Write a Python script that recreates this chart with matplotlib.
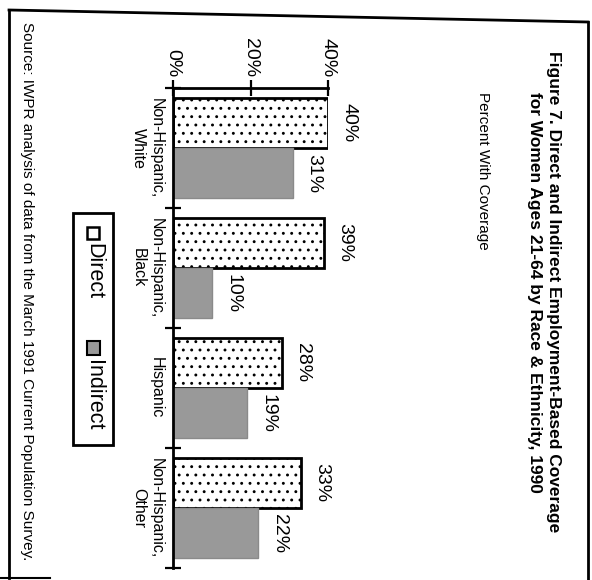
import matplotlib.pyplot as plt
from matplotlib.patches import Rectangle
from matplotlib.lines import Line2D

plt.rcParams["font.family"] = ["Liberation Sans", "DejaVu Sans"]
plt.rcParams["hatch.linewidth"] = 0.9

# data
categories = ["Non-Hispanic,\nWhite", "Non-Hispanic,\nBlack", "Hispanic", "Non-Hispanic,\nOther"]
direct = [40, 39, 28, 33]
indirect = [31, 10, 19, 22]
value_ticks = [0, 20, 40]
value_tick_labels = ["0%", "20%", "40%"]

W, H = 592, 580


def fx(x):
    return x / W


def fy(y):
    return 1 - y / H


fig = plt.figure(figsize=(W / 100, H / 100), dpi=100)

# page frame (scan border)
fig.add_artist(Line2D([fx(9), fx(588)], [fy(10), fy(22)], color="black", lw=2))
fig.add_artist(Line2D([fx(9), fx(9)], [fy(10), fy(578)], color="black", lw=2))
fig.add_artist(Line2D([fx(588), fx(588)], [fy(22), fy(580)], color="black", lw=2))
fig.add_artist(Line2D([fx(0), fx(50)], [fy(578), fy(578)], color="black", lw=1.5))

# chart drawn as horizontal bars, whole page rotated 90 degrees clockwise
ax = fig.add_axes([fx(173), fy(568), (328 - 173) / W, (568 - 88) / H])
pos = list(range(len(categories)))
bh = 0.42
ax.barh([p - bh / 2 for p in pos], direct, height=bh, color="white",
        edgecolor="black", linewidth=2, hatch="..", zorder=2)
ax.barh([p + bh / 2 for p in pos], indirect, height=bh, color="#999999",
        edgecolor="#8a8a8a", linewidth=1, zorder=2)

for p, v in zip(pos, direct):
    ax.annotate(f"{v}%", (v, p - bh / 2), xytext=(9, 0), textcoords="offset points",
                rotation=-90, ha="left", va="center", fontsize=14)
for p, v in zip(pos, indirect):
    ax.annotate(f"{v}%", (v, p + bh / 2), xytext=(9, 0), textcoords="offset points",
                rotation=-90, ha="left", va="center", fontsize=14)

ax.set_xlim(0, 40)
ax.set_ylim(len(categories) - 0.5, -0.5)
ax.spines["right"].set_visible(False)
ax.spines["bottom"].set_visible(False)
ax.spines["top"].set_linewidth(2)
ax.spines["left"].set_linewidth(2)
ax.set_facecolor("none")

ax.xaxis.tick_top()
ax.set_xticks(value_ticks)
ax.set_xticklabels(value_tick_labels, rotation=-90, fontsize=14)
ax.tick_params(axis="x", direction="inout", length=12, width=1.6, pad=2)

ax.set_yticks(pos)
ax.set_yticklabels(categories, rotation=-90, fontsize=11.5, ha="right", va="center",
                   multialignment="center")
ax.set_yticks([p - 0.5 for p in pos] + [len(pos) - 0.5], minor=True)
ax.tick_params(axis="y", which="major", length=0, pad=7)
ax.tick_params(axis="y", which="minor", direction="inout", length=12, width=1.6)

# title and notes
fig.text(fx(544), fy(292), "Figure 7. Direct and Indirect Employment-Based Coverage\n"
         "for Women Ages 21-64 by Race & Ethnicity, 1990",
         rotation=-90, ha="center", va="center", fontsize=12.5, fontweight="bold",
         multialignment="center", linespacing=1.3)
fig.text(fx(483), fy(92), "Percent With Coverage", rotation=-90,
         ha="center", va="top", fontsize=11)
fig.text(fx(27), fy(291),
         "Source: IWPR analysis of data from the March 1991 Current Population Survey.",
         rotation=-90, ha="center", va="center", fontsize=11)

# legend (rotated)
fig.add_artist(Rectangle((fx(73), fy(445)), (113 - 73) / W, (445 - 213) / H,
                         transform=fig.transFigure, facecolor="white",
                         edgecolor="black", lw=2))
fig.add_artist(Rectangle((fx(87), fy(239)), 12 / W, 12 / H, transform=fig.transFigure,
                         facecolor="white", edgecolor="black", lw=1.8))
fig.text(fx(94), fy(243), "Direct", rotation=-90, ha="center", va="top", fontsize=15.5)
fig.add_artist(Rectangle((fx(87), fy(355)), 13 / W, 14 / H, transform=fig.transFigure,
                         facecolor="#999999", edgecolor="black", lw=1.5))
fig.text(fx(94), fy(360), "Indirect", rotation=-90, ha="center", va="top", fontsize=15.5)

fig.savefig("out.png", dpi=100)
